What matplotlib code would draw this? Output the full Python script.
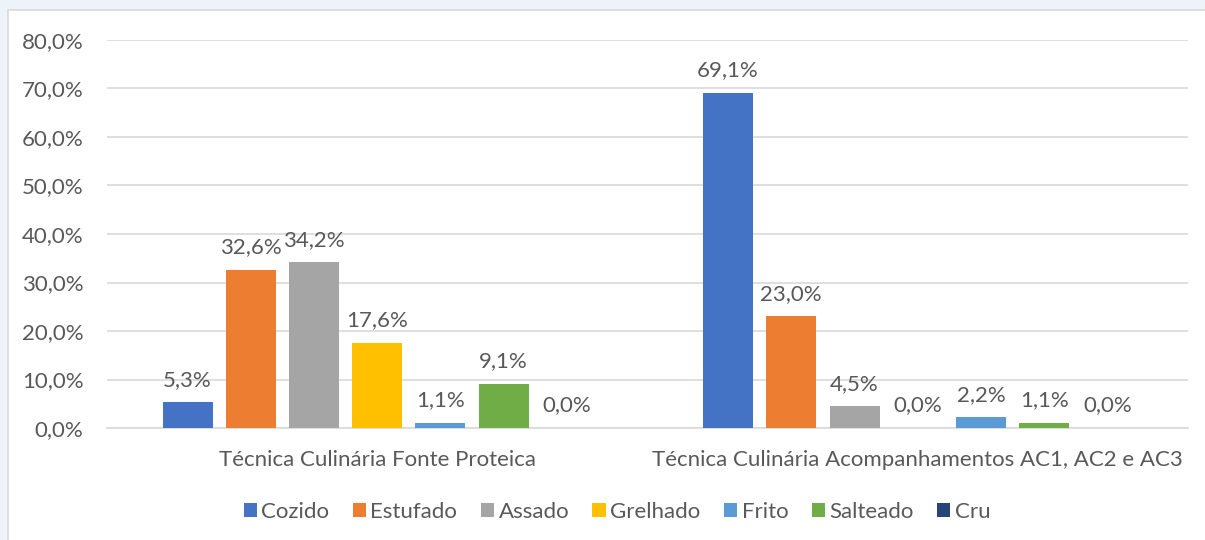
import numpy as np
import matplotlib.pyplot as plt
from matplotlib.patches import Rectangle
from matplotlib.ticker import FuncFormatter

# Data
categories = ['Técnica Culinária Fonte Proteica',
              'Técnica Culinária Acompanhamentos AC1, AC2 e AC3']
series_names = ['Cozido', 'Estufado', 'Assado', 'Grelhado', 'Frito', 'Salteado', 'Cru']
fonte_proteica = [5.3, 32.6, 34.2, 17.6, 1.1, 9.1, 0.0]
acompanhamentos = [69.1, 23.0, 4.5, 0.0, 2.2, 1.1, 0.0]
colors = ['#4472C4', '#ED7D31', '#A5A5A5', '#FFC000', '#5B9BD5', '#70AD47', '#264478']

plt.rcParams['font.family'] = ['Lato', 'DejaVu Sans']
text_color = '#595959'
fs = 16

fig = plt.figure(figsize=(12.05, 5.4), dpi=100)
fig.patch.set_facecolor('#EEF3FA')
# white chart area with thin grey border
fig.patches.append(Rectangle((8 / 1205, -0.01), 1.02, 1 - 10 / 540 + 0.01,
                             transform=fig.transFigure, facecolor='white',
                             edgecolor='#D9D9D9', linewidth=1.2, zorder=-10))

ax = fig.add_axes([107 / 1205, 1 - 428 / 540, (1188 - 107) / 1205, (428 - 40) / 540])
ax.set_facecolor('none')

values = np.array([fonte_proteica, acompanhamentos])
x = np.arange(len(categories))
slot = 0.117
width = 0.0925
for i, name in enumerate(series_names):
    pos = x + (i - 3) * slot
    vals = values[:, i]
    ax.bar(pos, vals, width, color=colors[i], label=name, zorder=3)
    for p, v in zip(pos, vals):
        ax.annotate(f'{v:.1f}%'.replace('.', ','), (p, v), xytext=(0, 9),
                    textcoords='offset points', ha='center', va='bottom',
                    fontsize=fs, color=text_color)

ax.set_xlim(-0.5, 1.5)
ax.set_ylim(0, 80)
ax.set_yticks(np.arange(0, 81, 10))
ax.yaxis.set_major_formatter(FuncFormatter(lambda v, _: f'{v:.1f}%'.replace('.', ',')))
ax.set_xticks(x)
ax.set_xticklabels(categories)
ax.grid(axis='y', color='#D9D9D9', linewidth=1.2, zorder=0)
for s in ['top', 'right', 'left']:
    ax.spines[s].set_visible(False)
ax.spines['bottom'].set_color('#D9D9D9')
ax.spines['bottom'].set_linewidth(1.2)
ax.tick_params(axis='both', length=0, labelsize=fs, colors=text_color)
ax.tick_params(axis='y', pad=17)
ax.tick_params(axis='x', pad=16)

ax.legend(loc='center', bbox_to_anchor=(617 / 1205, 1 - 512 / 540),
          bbox_transform=fig.transFigure, ncol=7, frameon=False, fontsize=fs,
          handlelength=0.6, handleheight=0.6, handletextpad=0.2, columnspacing=1.05,
          labelcolor=text_color)

fig.savefig('out.png', dpi=100)
